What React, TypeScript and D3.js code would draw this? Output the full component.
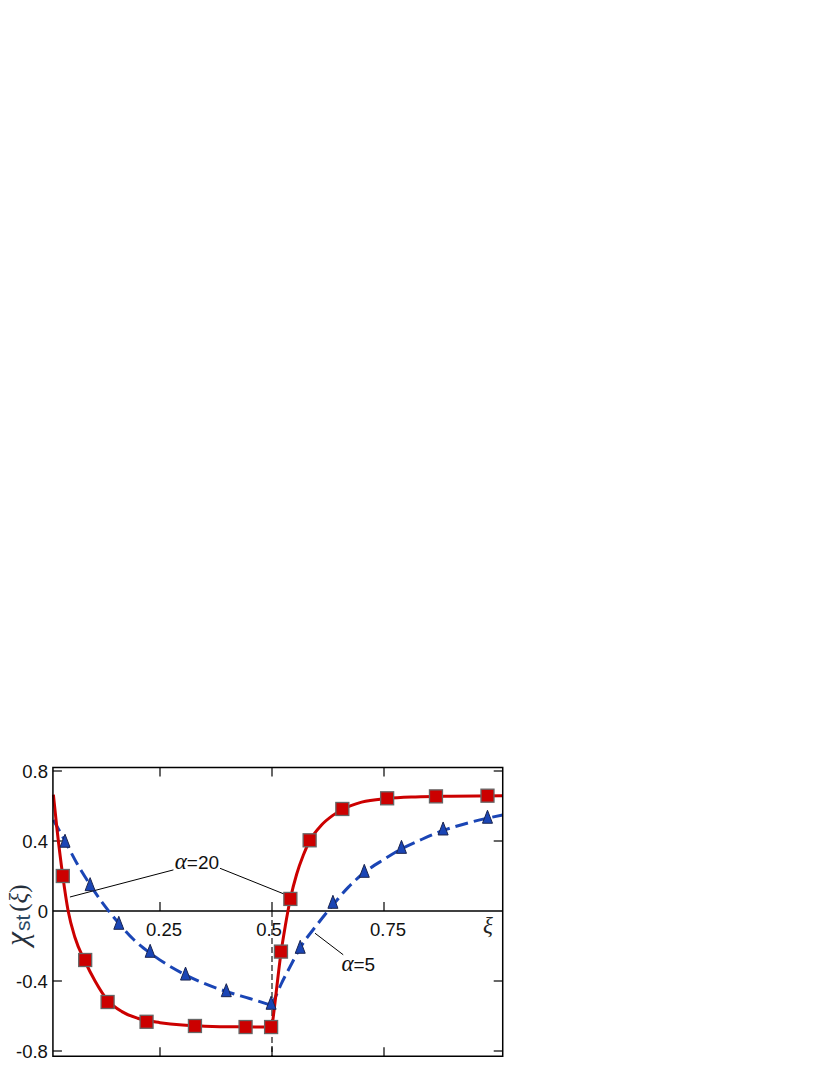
import React from "react";
import * as d3 from "d3";

// ---- data ----
const redSquares: [number, number][] = [
  [0.033, 0.2], [0.083, -0.28], [0.133, -0.52], [0.22, -0.633], [0.328, -0.657],
  [0.441, -0.663], [0.498, -0.663], [0.52, -0.232], [0.541, 0.069], [0.584, 0.404],
  [0.657, 0.583], [0.757, 0.644], [0.866, 0.655], [0.981, 0.659],
];
const blueTriangles: [number, number][] = [
  [0.038, 0.393], [0.094, 0.145], [0.158, -0.076], [0.228, -0.236], [0.307, -0.366],
  [0.398, -0.461], [0.498, -0.533], [0.563, -0.213], [0.636, 0.044], [0.706, 0.221],
  [0.789, 0.358], [0.882, 0.463], [0.981, 0.53],
];
const redCurveLeft: [number, number][] = [
  [0.012, 0.665], [0.02, 0.47], [0.033, 0.2], [0.045, 0.0], [0.06, -0.15], [0.083, -0.29],
  [0.105, -0.4], [0.133, -0.51], [0.165, -0.575], [0.2, -0.613], [0.25, -0.638],
  [0.3, -0.652], [0.35, -0.658], [0.42, -0.662], [0.5, -0.663],
];
const redCurveRight: [number, number][] = [
  [0.5, -0.663], [0.505, -0.56], [0.51, -0.45], [0.52, -0.24], [0.53, -0.08], [0.541, 0.07],
  [0.555, 0.21], [0.57, 0.32], [0.584, 0.4], [0.61, 0.49], [0.635, 0.545], [0.657, 0.58],
  [0.7, 0.622], [0.757, 0.643], [0.82, 0.652], [0.9, 0.656], [1.015, 0.658],
];
const blueCurveLeft: [number, number][] = [
  [0.012, 0.52], [0.038, 0.4], [0.065, 0.27], [0.094, 0.15], [0.125, 0.035], [0.158, -0.07],
  [0.19, -0.16], [0.228, -0.24], [0.265, -0.305], [0.307, -0.365], [0.35, -0.415],
  [0.398, -0.46], [0.45, -0.5], [0.5, -0.54],
];
const blueCurveRight: [number, number][] = [
  [0.5, -0.54], [0.52, -0.42], [0.54, -0.32], [0.563, -0.21], [0.6, -0.08], [0.636, 0.035],
  [0.67, 0.135], [0.706, 0.22], [0.75, 0.295], [0.789, 0.355], [0.835, 0.41], [0.882, 0.46],
  [0.94, 0.505], [1.015, 0.549],
];
const xTicks = [0.25, 0.5, 0.75];
const xTickLabels = ["0.25", "0.5", "0.75"];
const yTicks = [0.8, 0.4, 0, -0.4, -0.8];
const yTickLabels = ["0.8", "0.4", "0", "-0.4", "-0.8"];
const xDomain: [number, number] = [0.011, 1.015];
const yDomain: [number, number] = [-0.83, 0.82];

export default function App() {
  const x = d3.scaleLinear().domain([0, 1]).range([48, 496]);
  const y = d3.scaleLinear().domain([0, 0.8]).range([911, 771]);
  const x0 = x(xDomain[0]), x1 = x(xDomain[1]);
  const yT = y(yDomain[1]), yB = y(yDomain[0]);
  const line = d3.line<[number, number]>().x((d) => x(d[0])).y((d) => y(d[1])).curve(d3.curveMonotoneX);
  const tick = 9;
  const sans = "'Liberation Sans', Arial, sans-serif";
  const serif = "'Liberation Serif', 'Times New Roman', serif";
  const red = "#cc0000";
  const blue = "#1a45b5";

  return (
    <div style={{ position: "absolute", left: 0, top: 0 }}>
      <svg width={830} height={1075} xmlns="http://www.w3.org/2000/svg">
        <rect x={0} y={0} width={830} height={1075} fill="#fff" />
        {/* zero line */}
        <line x1={x0} x2={x1} y1={y(0)} y2={y(0)} stroke="#000" strokeWidth={1.5} />
        {/* dashed vertical at 0.5 */}
        <line x1={x(0.5)} x2={x(0.5)} y1={y(0)} y2={yB} stroke="#000" strokeWidth={1.1} strokeDasharray="6,3" />
        {/* x ticks on zero line, top and bottom */}
        {xTicks.map((t) => (
          <g key={"xt" + t}>
            <line x1={x(t)} x2={x(t)} y1={y(0)} y2={y(0) - tick} stroke="#000" strokeWidth={1.2} />
            <line x1={x(t)} x2={x(t)} y1={yB} y2={yB - tick} stroke="#000" strokeWidth={1.2} />
            <line x1={x(t)} x2={x(t)} y1={yT} y2={yT + tick} stroke="#000" strokeWidth={1.2} />
          </g>
        ))}
        {xTicks.map((t, i) => (
          <text key={"xl" + t} x={x(t) + (i === 1 ? -3 : 4)} y={936} textAnchor="middle" fontFamily={sans} fontSize={18.5} fill="#111">
            {xTickLabels[i]}
          </text>
        ))}
        {/* y ticks */}
        {yTicks.map((t, i) => (
          <g key={"yt" + t}>
            {t !== 0 && <line x1={x0} x2={x0 + tick} y1={y(t)} y2={y(t)} stroke="#000" strokeWidth={1.2} />}
            {t !== 0 && <line x1={x1} x2={x1 - tick} y1={y(t)} y2={y(t)} stroke="#000" strokeWidth={1.2} />}
            <text x={x0 - 5} y={y(t) + 6.5} textAnchor="end" fontFamily={sans} fontSize={18.5} fill="#111">
              {yTickLabels[i]}
            </text>
          </g>
        ))}
        {/* curves */}
        <path d={line(blueCurveLeft) || ""} fill="none" stroke={blue} strokeWidth={3} strokeDasharray="13,6" />
        <path d={line(blueCurveRight) || ""} fill="none" stroke={blue} strokeWidth={3} strokeDasharray="13,6" />
        <path d={line(redCurveLeft) || ""} fill="none" stroke={red} strokeWidth={3} />
        <path d={line(redCurveRight) || ""} fill="none" stroke={red} strokeWidth={3} />
        {/* leader lines */}
        <line x1={x(0.049)} y1={y(0.08)} x2={x(0.28)} y2={y(0.235)} stroke="#000" strokeWidth={1} />
        <line x1={x(0.384)} y1={y(0.244)} x2={x(0.529)} y2={y(0.095)} stroke="#000" strokeWidth={1} />
        <line x1={x(0.596)} y1={y(-0.127)} x2={x(0.659)} y2={y(-0.25)} stroke="#000" strokeWidth={1} />
        {/* markers */}
        {blueTriangles.map((d, i) => {
          const cx = x(d[0]), cy = y(d[1]);
          return (
            <path key={"tr" + i} d={`M${cx},${cy - 8}L${cx + 5},${cy + 5}L${cx - 5},${cy + 5}Z`} fill={blue} stroke="#1b2550" strokeWidth={1} />
          );
        })}
        {redSquares.map((d, i) => (
          <rect key={"sq" + i} x={x(d[0]) - 6.5} y={y(d[1]) - 6.5} width={13} height={13} fill={red} stroke="#666" strokeWidth={1.3} />
        ))}
        {/* annotations */}
        <text x={x(0.283)} y={869} fontSize={19} fontFamily={sans} fill="#111">
          <tspan fontFamily={serif} fontStyle="italic" fontSize={23}>α</tspan>=20
        </text>
        <text x={x(0.655)} y={971} fontSize={19} fontFamily={sans} fill="#111">
          <tspan fontFamily={serif} fontStyle="italic" fontSize={23}>α</tspan>=5
        </text>
        <text x={x(0.982)} y={933} textAnchor="middle" fontFamily={serif} fontStyle="italic" fontSize={23} fill="#222">ξ</text>
        {/* y axis label */}
        <text transform={`translate(27,${915}) rotate(-90)`} textAnchor="middle" fill="#26303c">
          <tspan fontFamily={serif} fontStyle="italic" fontSize={31}>χ</tspan>
          <tspan fontFamily={sans} fontSize={21} fill="#2c4a66" dx={1} dy={3}>st</tspan>
          <tspan fontFamily={serif} fontSize={25} dx={3} dy={-3}>(</tspan>
          <tspan fontFamily={serif} fontStyle="italic" fontSize={25}>ξ</tspan>
          <tspan fontFamily={serif} fontSize={25}>)</tspan>
        </text>
        {/* frame */}
        <rect x={x0} y={yT} width={x1 - x0} height={yB - yT} fill="none" stroke="#000" strokeWidth={1.5} />
      </svg>
    </div>
  );
}
